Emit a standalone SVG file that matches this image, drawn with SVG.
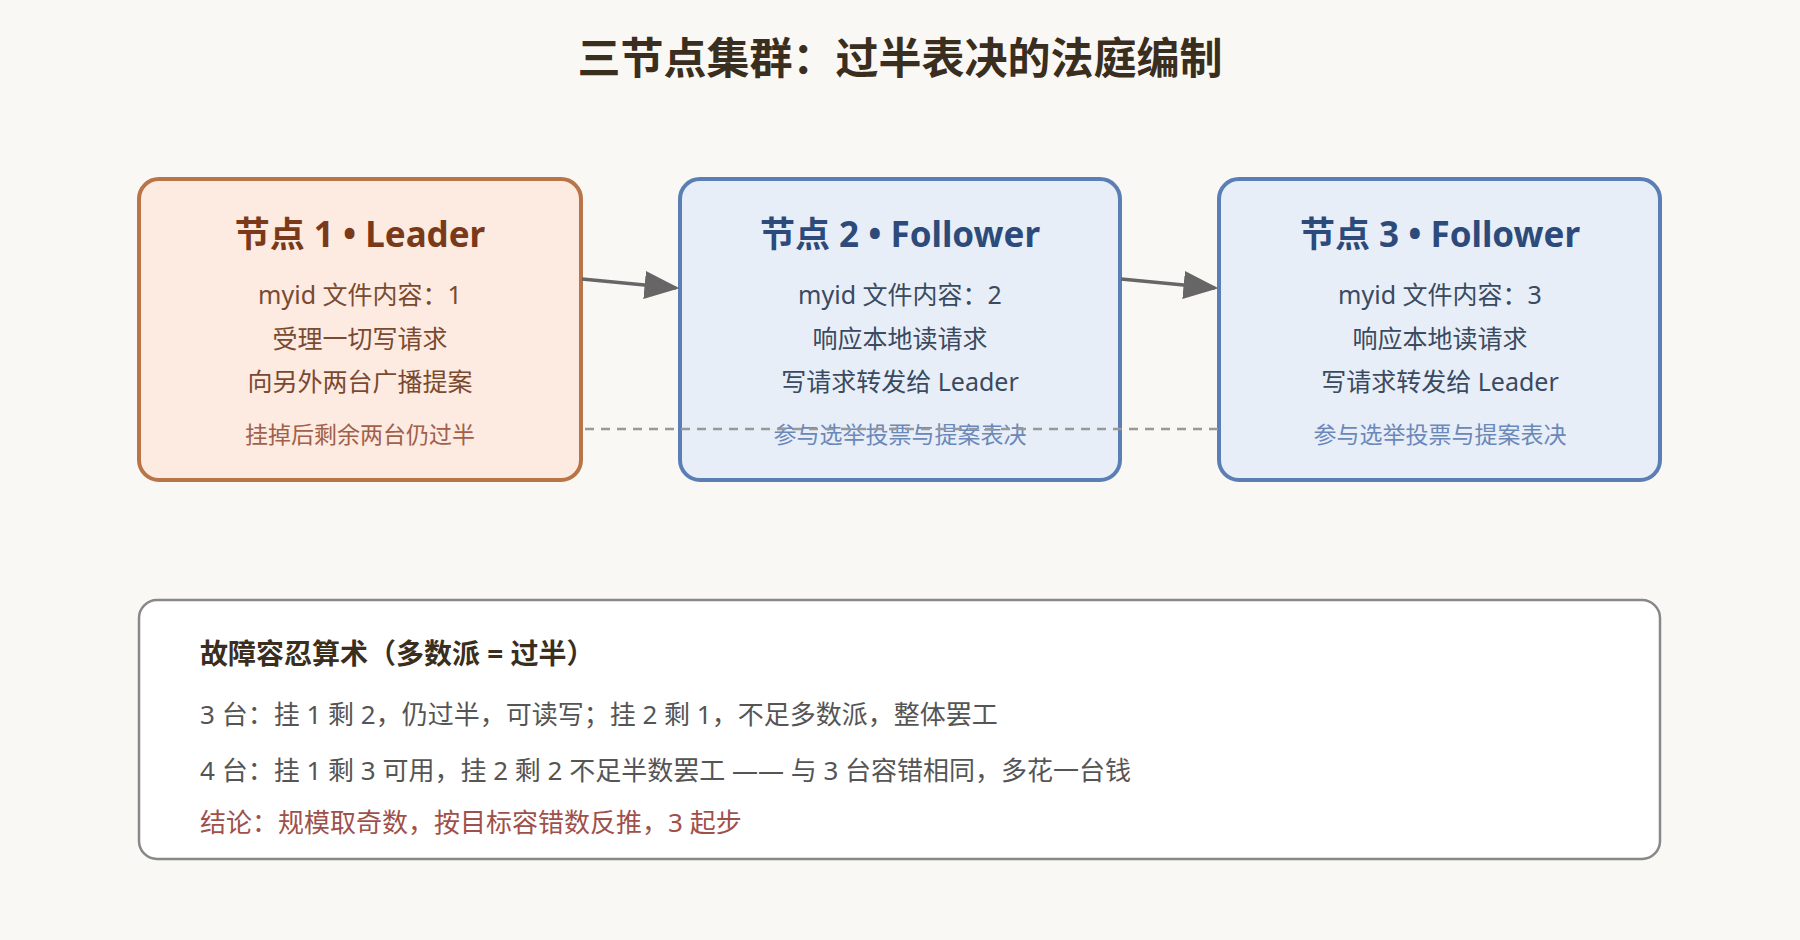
<svg xmlns="http://www.w3.org/2000/svg" width="1800" height="940" viewBox="0 0 1800 940">
<style>
text{font-family:"Noto Sans","Noto Sans CJK SC",sans-serif;text-anchor:middle}
.t{font-size:35px;font-weight:bold}
.b{font-size:25px}
.s{font-size:23px}
.n1 rect{fill:#fdebe2;stroke:#b87548;stroke-width:4}
.n2 rect{fill:#e8eef8;stroke:#5b7fb5;stroke-width:4}
.n1 .t{fill:#7a3a1a}.n1 .b{fill:#7a4a30}.n1 .s{fill:#a0604a}
.n2 .t{fill:#2c4a7a}.n2 .b{fill:#3a4a60}.n2 .s{fill:#6a88b8}
.bl{font-size:26px;text-anchor:start;fill:#555}
.hd{font-size:28px;font-weight:bold;fill:#3a2e1e;text-anchor:start}
</style>
<defs><marker id="a" markerWidth="10" markerHeight="8" refX="9" refY="4" orient="auto"><path d="M0,0L10,4L0,8z" fill="#666"/></marker></defs>
<rect width="1800" height="940" fill="#faf8f4"/>
<text x="900" y="74" font-size="43" font-weight="bold" fill="#3a2e1e">三节点集群：过半表决的法庭编制</text>
<g id="node1" class="n1"><rect x="139" y="179" width="442" height="301" rx="20"/>
<text class="t" x="360" y="247">节点 1 • Leader</text>
<text class="b" x="360" y="304">myid 文件内容：1</text>
<text class="b" x="360" y="348">受理一切写请求</text>
<text class="b" x="360" y="391">向另外两台广播提案</text>
<text class="s" x="360" y="443">挂掉后剩余两台仍过半</text></g>
<g id="node2" class="n2"><rect x="680" y="179" width="440" height="301" rx="20"/>
<text class="t" x="900" y="247">节点 2 • Follower</text>
<text class="b" x="900" y="304">myid 文件内容：2</text>
<text class="b" x="900" y="348">响应本地读请求</text>
<text class="b" x="900" y="391">写请求转发给 Leader</text>
<text class="s" x="900" y="443">参与选举投票与提案表决</text></g>
<g id="node3" class="n2"><rect x="1219" y="179" width="441" height="301" rx="20"/>
<text class="t" x="1440" y="247">节点 3 • Follower</text>
<text class="b" x="1440" y="304">myid 文件内容：3</text>
<text class="b" x="1440" y="348">响应本地读请求</text>
<text class="b" x="1440" y="391">写请求转发给 Leader</text>
<text class="s" x="1440" y="443">参与选举投票与提案表决</text></g>
<g id="connectors">
<line x1="585" y1="429" x2="1219" y2="429" stroke="#999" stroke-width="2.5" stroke-dasharray="9,7"/>
<line x1="582" y1="279" x2="676" y2="288" stroke="#666" stroke-width="3.5" marker-end="url(#a)"/>
<line x1="1121" y1="279" x2="1215" y2="288" stroke="#666" stroke-width="3.5" marker-end="url(#a)"/>
</g>
<g id="summary"><rect x="139" y="600" width="1521" height="259" rx="18" fill="#fff" stroke="#888" stroke-width="2.5"/>
<text class="hd" x="200" y="664">故障容忍算术（多数派 = 过半）</text>
<text class="bl" x="200" y="724">3 台：挂 1 剩 2，仍过半，可读写；挂 2 剩 1，不足多数派，整体罢工</text>
<text class="bl" x="200" y="780">4 台：挂 1 剩 3 可用，挂 2 剩 2 不足半数罢工 —— 与 3 台容错相同，多花一台钱</text>
<text class="bl" x="200" y="832" style="fill:#a0504a">结论：规模取奇数，按目标容错数反推，3 起步</text></g>
</svg>
